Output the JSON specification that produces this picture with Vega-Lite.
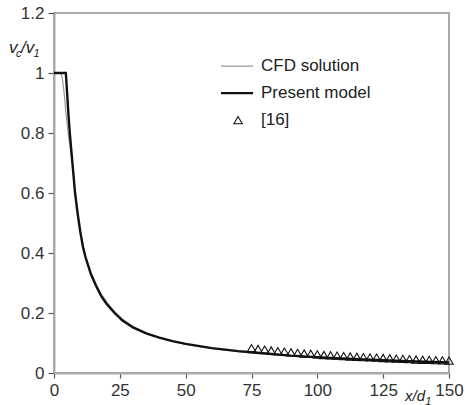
{
  "$schema": "https://vega.github.io/schema/vega-lite/v6.json",
  "autosize": "none",
  "width": 395,
  "height": 360,
  "padding": {"left": 54, "top": 13, "right": 16, "bottom": 32},
  "background": "white",
  "config": {
    "view": {"stroke": "#aaaaaa", "strokeWidth": 2},
    "font": "Liberation Sans"
  },
  "datasets": {
    "model": [
      {"x": 0, "v": 1}, {"x": 4.5, "v": 1}, {"x": 5, "v": 0.93}, {"x": 5.5, "v": 0.86}, {"x": 6, "v": 0.8},
      {"x": 7, "v": 0.7}, {"x": 8, "v": 0.6}, {"x": 9, "v": 0.53}, {"x": 10, "v": 0.47}, {"x": 11, "v": 0.42},
      {"x": 12, "v": 0.385}, {"x": 14, "v": 0.33}, {"x": 16, "v": 0.29}, {"x": 18, "v": 0.255}, {"x": 20, "v": 0.23},
      {"x": 23, "v": 0.2}, {"x": 26, "v": 0.175}, {"x": 30, "v": 0.152}, {"x": 35, "v": 0.132}, {"x": 40, "v": 0.118},
      {"x": 45, "v": 0.106}, {"x": 50, "v": 0.097}, {"x": 60, "v": 0.083}, {"x": 70, "v": 0.073}, {"x": 75, "v": 0.069},
      {"x": 90, "v": 0.058}, {"x": 105, "v": 0.05}, {"x": 120, "v": 0.044}, {"x": 135, "v": 0.039}, {"x": 150, "v": 0.035}
    ],
    "cfd": [
      {"x": 0, "v": 1}, {"x": 2.5, "v": 1}, {"x": 3, "v": 0.99}, {"x": 3.5, "v": 0.96}, {"x": 4, "v": 0.92},
      {"x": 4.5, "v": 0.87}, {"x": 5, "v": 0.83}, {"x": 5.5, "v": 0.79}, {"x": 6, "v": 0.76}, {"x": 7, "v": 0.69},
      {"x": 8, "v": 0.6}, {"x": 10, "v": 0.47}, {"x": 12, "v": 0.39}, {"x": 14, "v": 0.335}, {"x": 16, "v": 0.295},
      {"x": 18, "v": 0.262}, {"x": 20, "v": 0.237}, {"x": 23, "v": 0.205}, {"x": 26, "v": 0.18}, {"x": 30, "v": 0.155},
      {"x": 35, "v": 0.133}, {"x": 40, "v": 0.117}, {"x": 50, "v": 0.095}, {"x": 60, "v": 0.081}, {"x": 75, "v": 0.066},
      {"x": 90, "v": 0.056}, {"x": 105, "v": 0.048}, {"x": 120, "v": 0.042}, {"x": 135, "v": 0.037}, {"x": 150, "v": 0.033}
    ],
    "ref16": [
      {"x": 75, "v": 0.083}, {"x": 77.5, "v": 0.08}, {"x": 80, "v": 0.078}, {"x": 82.5, "v": 0.075}, {"x": 85, "v": 0.073},
      {"x": 87.5, "v": 0.071}, {"x": 90, "v": 0.069}, {"x": 92.5, "v": 0.067}, {"x": 95, "v": 0.065}, {"x": 97.5, "v": 0.064},
      {"x": 100, "v": 0.062}, {"x": 102.5, "v": 0.06}, {"x": 105, "v": 0.059}, {"x": 107.5, "v": 0.058}, {"x": 110, "v": 0.056},
      {"x": 112.5, "v": 0.055}, {"x": 115, "v": 0.054}, {"x": 117.5, "v": 0.053}, {"x": 120, "v": 0.052}, {"x": 122.5, "v": 0.051},
      {"x": 125, "v": 0.05}, {"x": 127.5, "v": 0.049}, {"x": 130, "v": 0.048}, {"x": 132.5, "v": 0.047}, {"x": 135, "v": 0.046},
      {"x": 137.5, "v": 0.045}, {"x": 140, "v": 0.044}, {"x": 142.5, "v": 0.0435}, {"x": 145, "v": 0.043}, {"x": 147.5, "v": 0.042},
      {"x": 150, "v": 0.041}
    ],
    "legendText": [
      {"x": 78.6, "v": 1.023, "label": "CFD solution"},
      {"x": 78.6, "v": 0.933, "label": "Present model"},
      {"x": 78.6, "v": 0.843, "label": "[16]"}
    ],
    "legCfd": [{"x": 63.4, "x2": 75.6, "v": 1.023}],
    "legModel": [{"x": 63.4, "x2": 75.6, "v": 0.933}],
    "legTri": [{"x": 69.9, "v": 0.843}],
    "titleMain": [
      {"x": -17.1, "v": 1.067, "label": "v"},
      {"x": -12.5, "v": 1.067, "label": "/v"}
    ],
    "titleMainX": [
      {"x": 133.3, "v": -0.093, "label": "x/d"}
    ],
    "titleSub": [
      {"x": -14.4, "v": 1.053, "label": "c"},
      {"x": -7.8, "v": 1.053, "label": "1"},
      {"x": 141.0, "v": -0.106, "label": "1"}
    ]
  },
  "encoding": {
    "x": {
      "field": "x", "type": "quantitative",
      "scale": {"domain": [0, 150], "nice": false, "zero": false},
      "axis": {
        "values": [0, 25, 50, 75, 100, 125, 150], "title": null, "grid": false, "labelFlush": false, "labelOverlap": false,
        "domainColor": "#aaaaaa", "domainWidth": 2, "tickColor": "#555555", "tickSize": 5, "tickWidth": 1.2,
        "labelFontSize": 17, "labelColor": "#333333", "labelPadding": 4, "labelDx": 3, "labelFont": "Liberation Sans"
      }
    },
    "y": {
      "field": "v", "type": "quantitative",
      "scale": {"domain": [0, 1.2], "nice": false, "zero": false},
      "axis": {
        "values": [0, 0.2, 0.4, 0.6, 0.8, 1, 1.2], "format": "~g", "title": null, "grid": false, "labelFlush": false, "labelOverlap": false,
        "domainColor": "#aaaaaa", "domainWidth": 2, "tickColor": "#555555", "tickSize": 6, "tickWidth": 1.2,
        "labelFontSize": 17, "labelColor": "#333333", "labelPadding": 4, "labelFont": "Liberation Sans"
      }
    }
  },
  "layer": [
    {"data": {"name": "cfd"}, "mark": {"type": "line", "stroke": "#999999", "strokeWidth": 1.2}},
    {"data": {"name": "model"}, "mark": {"type": "line", "stroke": "#111111", "strokeWidth": 2.4}},
    {"data": {"name": "ref16"}, "mark": {"type": "point", "shape": "triangle-up", "filled": false, "stroke": "#111111", "strokeWidth": 1.1, "size": 70, "opacity": 1}},
    {"data": {"name": "legCfd"}, "mark": {"type": "rule", "stroke": "#999999", "strokeWidth": 1.2}, "encoding": {"x2": {"field": "x2"}}},
    {"data": {"name": "legModel"}, "mark": {"type": "rule", "stroke": "#111111", "strokeWidth": 2.4}, "encoding": {"x2": {"field": "x2"}}},
    {"data": {"name": "legTri"}, "mark": {"type": "point", "shape": "triangle-up", "filled": false, "stroke": "#111111", "strokeWidth": 1.1, "size": 70, "opacity": 1}},
    {"data": {"name": "legendText"}, "mark": {"type": "text", "align": "left", "baseline": "middle", "fontSize": 17, "fill": "#222222"}, "encoding": {"text": {"field": "label"}}},
    {"data": {"name": "titleMain"}, "mark": {"type": "text", "align": "left", "baseline": "alphabetic", "fontSize": 17, "fontStyle": "italic", "fill": "#222222"}, "encoding": {"text": {"field": "label"}}},
    {"data": {"name": "titleMainX"}, "mark": {"type": "text", "align": "left", "baseline": "alphabetic", "fontSize": 15, "fontStyle": "italic", "fill": "#222222"}, "encoding": {"text": {"field": "label"}}},
    {"data": {"name": "titleSub"}, "mark": {"type": "text", "align": "left", "baseline": "alphabetic", "fontSize": 11, "fontStyle": "italic", "fill": "#222222"}, "encoding": {"text": {"field": "label"}}}
  ]
}
